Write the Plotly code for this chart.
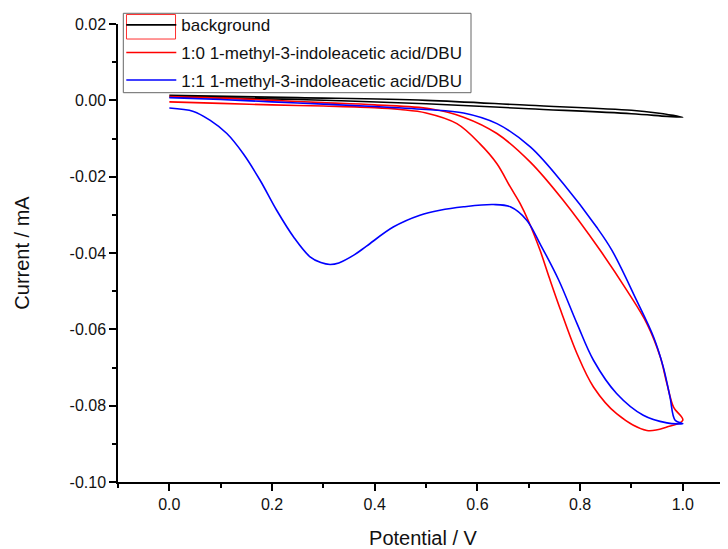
import plotly.graph_objects as go

# cyclic voltammograms (potential in V, current in mA)
bg_v = [0.0, 0.25, 0.5, 0.7, 0.9, 0.95, 1.0, 0.97, 0.9, 0.7, 0.5, 0.25, 0.0]
bg_i = [0.0013, 0.0007, 0.0000, -0.0013, -0.0026, -0.0033, -0.0044,
        -0.0042, -0.0035, -0.0022, -0.0009, 0.0002, 0.0009]

red_v = [0.0, 0.1, 0.2, 0.3, 0.4, 0.45, 0.5, 0.56, 0.605, 0.638, 0.664, 0.683,
         0.70, 0.722, 0.740, 0.761, 0.794, 0.826, 0.871, 0.93, 0.969, 1.0,
         0.982, 0.969, 0.956, 0.930, 0.891, 0.839, 0.767, 0.703, 0.638, 0.573,
         0.508, 0.4, 0.3, 0.2, 0.1, 0.0]
red_i = [-0.0004, -0.0008, -0.0012, -0.0015, -0.0019, -0.0024, -0.0033, -0.0061,
         -0.0114, -0.0166, -0.0227, -0.0270, -0.0318, -0.0393, -0.0465, -0.0546,
         -0.0664, -0.0751, -0.0821, -0.0865, -0.0856, -0.0838,
         -0.0804, -0.0742, -0.0672, -0.0585, -0.0498, -0.0393, -0.0262, -0.0162,
         -0.0087, -0.0044, -0.0022, -0.0012, -0.0006, 0.0000, 0.0006, 0.0010]

blue_v = [0.0, 0.047, 0.079, 0.112, 0.144, 0.177, 0.209, 0.242, 0.274, 0.295,
          0.313, 0.33, 0.36, 0.384, 0.436, 0.488, 0.527, 0.573, 0.631, 0.664,
          0.696, 0.722, 0.758, 0.794, 0.826, 0.871, 0.923, 0.969, 1.0,
          0.985, 0.975, 0.962, 0.943, 0.91, 0.862, 0.832, 0.767, 0.703, 0.638,
          0.573, 0.5, 0.4, 0.3, 0.2, 0.1, 0.0]
blue_i = [-0.0020, -0.0029, -0.0052, -0.0087, -0.0140, -0.0210, -0.0288, -0.0358,
          -0.0410, -0.0425, -0.0430, -0.0426, -0.0405, -0.0382, -0.0332, -0.0301,
          -0.0288, -0.0279, -0.0273, -0.0279, -0.0314, -0.0376, -0.0470, -0.0585,
          -0.0681, -0.0768, -0.0825, -0.0845, -0.0847,
          -0.0838, -0.0777, -0.0699, -0.0620, -0.0524, -0.0393, -0.0332, -0.0218,
          -0.0122, -0.0061, -0.0033, -0.0024, -0.0016, -0.0010, -0.0004, 0.0002,
          0.0007]

x_ticks = [0.0, 0.2, 0.4, 0.6, 0.8, 1.0]
y_ticks = [0.02, 0.00, -0.02, -0.04, -0.06, -0.08, -0.10]

font = "Liberation Sans, Arial, sans-serif"
line_style = dict(width=1.6, shape="spline", smoothing=1.0)

fig = go.Figure()
fig.add_trace(go.Scatter(x=bg_v, y=bg_i, mode="lines", name="background",
                         legendgroup="bg",
                         line=dict(color="black", **line_style)))
fig.add_trace(go.Scatter(x=red_v, y=red_i, mode="lines",
                         name="1:0 1-methyl-3-indoleacetic acid/DBU", legendgroup="r",
                         line=dict(color="#ff0000", **line_style)))
fig.add_trace(go.Scatter(x=blue_v, y=blue_i, mode="lines",
                         name="1:1 1-methyl-3-indoleacetic acid/DBU", legendgroup="b",
                         line=dict(color="#0000ff", **line_style)))

# legend frame drawn as a shape so its size matches the original box
fig.add_shape(type="rect", xref="paper", yref="paper", layer="below",
              x0=0.0087, x1=0.5787, y0=0.850, y1=1.0234,
              line=dict(color="#666666", width=1), fillcolor="white")
# the red outline Origin drew round the background sample
fig.add_shape(type="rect", xref="paper", yref="paper", layer="above",
              x0=0.0139, x1=0.0943, y0=0.9672, y1=1.0207,
              line=dict(color="#ff3030", width=1))

# page body has an 8px margin, so the figure is 8px smaller than the window
fig.update_layout(
    width=720, height=541,
    margin=dict(l=110, r=0, t=16, b=67, autoexpand=False),
    paper_bgcolor="white", plot_bgcolor="white",
    font=dict(family=font, size=16, color="#111111"),
    showlegend=True,
    legend=dict(x=0.0054, y=1.0365, xanchor="left", yanchor="top",
                borderwidth=0, bgcolor="rgba(0,0,0,0)",
                font=dict(size=17, color="#111111"),
                itemwidth=50, tracegroupgap=2.5),
)
fig.update_xaxes(
    range=[-0.1, 1.088], showgrid=False, zeroline=False,
    showline=True, linecolor="black", linewidth=1.5,
    ticks="outside", ticklen=7, tickwidth=1.5, tickcolor="black",
    tickvals=x_ticks, ticktext=["%.1f" % v for v in x_ticks],
    minor=dict(dtick=0.1, tick0=0, ticks="outside", ticklen=4, tickwidth=1.5, tickcolor="black"),
    title=dict(text="Potential / V", font=dict(size=20), standoff=19),
)
fig.update_yaxes(
    range=[-0.10, 0.02], showgrid=False, zeroline=False,
    showline=True, linecolor="black", linewidth=1.5,
    ticks="outside", ticklen=7, tickwidth=1.5, tickcolor="black",
    tickvals=y_ticks, ticktext=[("%.2f" % v).replace("-0.00", "0.00") for v in y_ticks],
    minor=dict(dtick=0.01, tick0=0, ticks="outside", ticklen=4, tickwidth=1.5, tickcolor="black"),
    title=dict(text="Current / mA", font=dict(size=20), standoff=35),
)

fig.write_html("out.html")
